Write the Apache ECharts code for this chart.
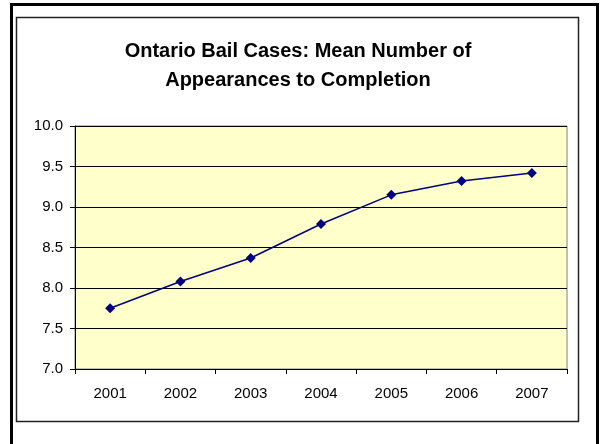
<!DOCTYPE html>
<html><head><meta charset="utf-8">
<script src="https://cdn.jsdelivr.net/npm/echarts@6/dist/echarts.min.js"></script>
<style>html,body{margin:0;padding:0;background:#fff}#c{width:600px;height:444px}</style>
</head><body><div id="c"></div>
<script>
const categories = ['2001','2002','2003','2004','2005','2006','2007'];
const meanAppearances = [7.75, 8.08, 8.37, 8.79, 9.15, 9.32, 9.42];
const titleLines = ['Ontario Bail Cases: Mean Number of', 'Appearances to Completion'];

const chart = echarts.init(document.getElementById('c'), null, {renderer:'canvas'});
chart.setOption({
  animation: false,
  backgroundColor: '#ffffff',
  title: {
    text: titleLines.join('\n'),
    left: 293, textAlign: 'center', top: 32,
    textStyle: {fontFamily: 'Liberation Sans, Arial', fontSize: 20, fontWeight: 'bold', color: '#000', lineHeight: 29}
  },
  graphic: [
    {type:'rect', shape:{x:11.5, y:4.5, width:586, height:460}, style:{fill:null, stroke:'#000', lineWidth:3}, z:100},
    {type:'rect', shape:{x:16.5, y:17.5, width:562, height:404}, style:{fill:null, stroke:'#222', lineWidth:1.5}, z:100}
  ],
  grid: {left:75, top:126, width:492, height:243, show:true, backgroundColor:'#FFFFCC', borderColor:'#808080', borderWidth:1},
  xAxis: {
    type:'category', data: categories, boundaryGap: true,
    axisLine:{lineStyle:{color:'#000', width:1}},
    axisTick:{show:true, length:5, inside:false, lineStyle:{color:'#000'}},
    axisLabel:{margin:17, color:'#000', fontFamily:'Liberation Sans, Arial', fontSize:15}
  },
  yAxis: {
    type:'value', min:7, max:10, interval:0.5,
    axisLine:{show:true, lineStyle:{color:'#000', width:1}},
    axisTick:{show:true, length:5, lineStyle:{color:'#000'}},
    axisLabel:{margin:12, color:'#000', fontFamily:'Liberation Sans, Arial', fontSize:15, formatter: v => v.toFixed(1)},
    splitLine:{show:true, lineStyle:{color:'#000', width:1}}
  },
  series: [{
    type:'line', data: meanAppearances,
    symbol:'diamond', symbolSize:10,
    lineStyle:{color:'#000080', width:1.5},
    itemStyle:{color:'#000080'}
  }]
});
</script></body></html>
